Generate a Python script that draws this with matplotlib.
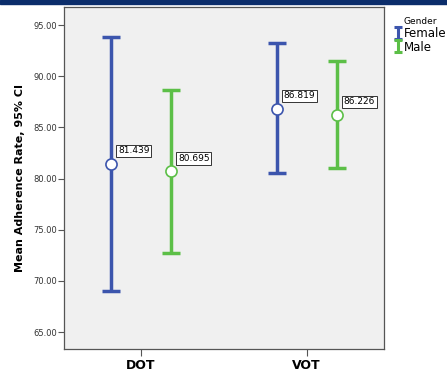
import matplotlib
matplotlib.use("Agg")
import matplotlib.pyplot as plt
from matplotlib.lines import Line2D
from matplotlib.path import Path
import numpy as np

groups = ["DOT", "VOT"]
genders = ["Female", "Male"]
means = {"Female": [81.439, 86.819], "Male": [80.695, 86.226]}
lower = {"Female": [69.05, 80.5], "Male": [72.75, 81.0]}
upper = {"Female": [93.85, 93.2], "Male": [88.65, 91.5]}
colors = {"Female": "#3c55ad", "Male": "#5cbf47"}
offsets = {"Female": -0.181, "Male": 0.181}

fig = plt.figure(figsize=(4.47, 3.74), dpi=100)
fig.patches.append(plt.Rectangle((0, 1 - 4 / 374), 1, 4 / 374, transform=fig.transFigure,
                                 color="#0b2d6b", zorder=0))
ax = fig.add_axes([64 / 447, 1 - 349 / 374, 320 / 447, 342 / 374])
ax.set_facecolor("#f0f0f0")

x = np.arange(len(groups))
for g in genders:
    xs = x + offsets[g]
    m = np.array(means[g])
    lo = m - np.array(lower[g])
    hi = np.array(upper[g]) - m
    ax.errorbar(xs, m, yerr=[lo, hi], fmt="none", ecolor=colors[g],
                elinewidth=2.5, capsize=6.5, capthick=2.5, zorder=2)
    ax.plot(xs, m, "o", ms=8, mfc="white", mec=colors[g], mew=1.2, zorder=3)
    for xi, mi in zip(xs, m):
        ax.annotate(f"{mi:.3f}", (xi, mi), xytext=(5, 6), textcoords="offset points",
                    fontsize=6.5, va="bottom", ha="left", zorder=4,
                    bbox=dict(boxstyle="square,pad=0.2", fc="white", ec="#333333", lw=0.7))

ax.set_xlim(-0.465, 1.467)
ax.set_ylim(63.34, 96.76)
ax.set_xticks(x)
ax.set_xticklabels(groups, fontsize=9, fontweight="bold")
ax.set_yticks(np.arange(65, 96, 5))
ax.set_yticklabels([f"{v:.2f}" for v in np.arange(65, 96, 5)], fontsize=6, color="#333333")
ax.tick_params(axis="y", length=4, width=0.8, color="#555555", pad=1)
ax.tick_params(axis="x", length=5, width=0.8, color="#555555", pad=2)
for s in ax.spines.values():
    s.set_color("#555555")
    s.set_linewidth(0.9)
ax.set_ylabel("Mean Adherence Rate, 95% CI", fontsize=8, fontweight="bold", labelpad=6)

# I-beam marker for the legend
ibeam = Path([(-0.8, -1), (0.8, -1), (0, -1), (0, 1), (-0.8, 1), (0.8, 1)],
             [Path.MOVETO, Path.LINETO, Path.MOVETO, Path.LINETO, Path.MOVETO, Path.LINETO])
handles = [Line2D([], [], ls="none", marker=ibeam, ms=8, mew=2.2, mfc="none",
                  color=colors[g]) for g in genders]
leg = fig.legend(handles=handles, labels=genders, loc="upper left",
                 bbox_to_anchor=(384 / 447, 1 - 8 / 374), frameon=False, fontsize=8.5,
                 title="Gender", title_fontsize=6.5, handlelength=0.8, handletextpad=0.1,
                 labelspacing=0.05, borderpad=0.3)
leg._legend_box.align = "center"

fig.savefig("out.png", dpi=100)
